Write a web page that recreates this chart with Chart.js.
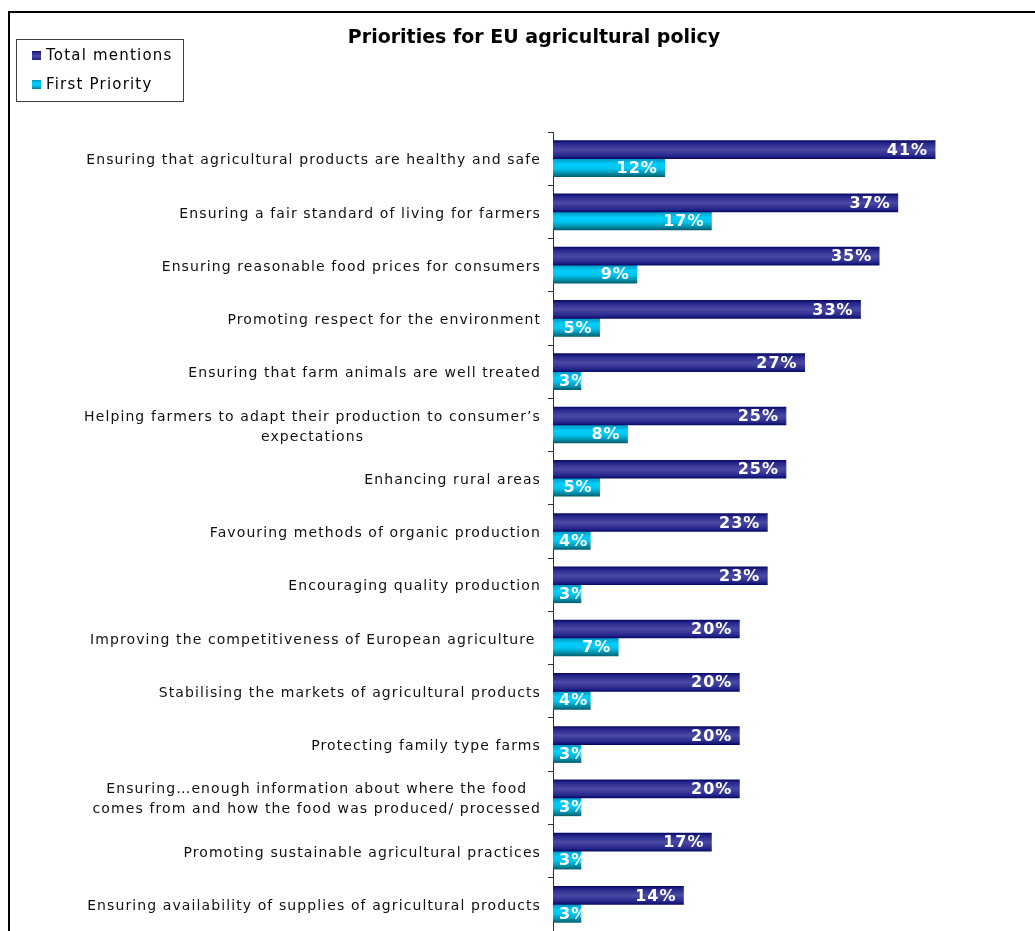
<!DOCTYPE html>
<html>
<head>
<meta charset="utf-8">
<script src="https://cdn.jsdelivr.net/npm/chart.js@4/dist/chart.umd.min.js"></script>
<style>
  html, body { margin:0; padding:0; background:#fff; overflow:hidden; }
  #wrap { position:absolute; left:0; top:0; width:1068px; height:931px; }
</style>
</head>
<body>
<div id="wrap"><canvas id="policyChart"></canvas></div>
<script>
/* ====== データ ====== */
const chartTitle = 'Priorities for EU agricultural policy';
const categories = [
  ['Ensuring that agricultural products are healthy and safe'],
  ['Ensuring a fair standard of living for farmers'],
  ['Ensuring reasonable food prices for consumers'],
  ['Promoting respect for the environment'],
  ['Ensuring that farm animals are well treated'],
  ['Helping farmers to adapt their production to consumer\u2019s', 'expectations'],
  ['Enhancing rural areas'],
  ['Favouring methods of organic production'],
  ['Encouraging quality production'],
  ['Improving the competitiveness of European agriculture '],
  ['Stabilising the markets of agricultural products'],
  ['Protecting family type farms'],
  ['Ensuring\u2026enough information about where the food', 'comes from and how the food was produced/ processed'],
  ['Promoting sustainable agricultural practices'],
  ['Ensuring availability of supplies of agricultural products']
];
const seriesNames = ['Total mentions', 'First Priority'];
const totalMentions = [41, 37, 35, 33, 27, 25, 25, 23, 23, 20, 20, 20, 20, 17, 14];
const firstPriority = [12, 17, 9, 5, 3, 8, 5, 4, 3, 7, 4, 3, 3, 3, 3];

const FONT = "'DejaVu Sans', Verdana, sans-serif";
const BAR_H = 18;
const PAD_L = 49, PAD_R = 49;   // タイトルを中央に寄せるための左右余白

/* ====== バーのグラデーション ====== */
const gradStops = [
  [[0, '#0a0a66'], [0.15, '#26268c'], [0.5, '#4a4aa4'], [0.85, '#26268c'], [1, '#0a0a66']],
  [[0, '#0096bf'], [0.3, '#00ccfa'], [0.55, '#00c6f2'], [0.8, '#0094b0'], [1, '#00606e']]
];
const flatColors = ['#2a2a8a', '#00c0ee'];

function barFill(ctx) {
  const chart = ctx.chart;
  const ds = ctx.datasetIndex;
  if (!chart.chartArea || ctx.dataIndex === undefined) return flatColors[ds];
  const yc = chart.scales.y.getPixelForValue(ctx.dataIndex);
  const top = ds === 0 ? yc - BAR_H : yc;
  const g = chart.ctx.createLinearGradient(0, top, 0, top + BAR_H);
  gradStops[ds].forEach(s => g.addColorStop(s[0], s[1]));
  return g;
}

/* ====== 枠・凡例・カテゴリ名・値ラベル ====== */
const decorPlugin = {
  id: 'decor',
  beforeDraw(chart) {
    const c = chart.ctx;
    c.save();
    c.strokeStyle = '#000';
    c.lineWidth = 2;
    c.beginPath();
    c.moveTo(9, 940);
    c.lineTo(9, 12);
    c.lineTo(1100, 12);
    c.stroke();
    c.restore();
  },
  afterDraw(chart) {
    const c = chart.ctx;
    c.save();

    // 凡例
    c.strokeStyle = '#404040';
    c.lineWidth = 1;
    c.strokeRect(16.5, 39.5, 167, 62);
    c.font = '15px ' + FONT;
    c.letterSpacing = '1.2px';
    c.textBaseline = 'middle';
    c.textAlign = 'left';
    chart.data.datasets.forEach((d, i) => {
      const y = 56 + i * 29;
      const g = c.createLinearGradient(0, y - 5, 0, y + 5);
      gradStops[i].forEach(s => g.addColorStop(s[0], s[1]));
      c.fillStyle = g;
      c.fillRect(32, y - 5, 9, 9);
      c.fillStyle = '#000';
      c.fillText(d.label, 46, y);
    });

    // カテゴリ名（複数行は中央揃え、ブロックは右寄せ）
    const ys = chart.scales.y;
    c.font = '14px ' + FONT;
    c.letterSpacing = '1.1px';
    c.fillStyle = '#111';
    const right = 541, lh = 20;
    categories.forEach((lines, i) => {
      const yc = ys.getPixelForValue(i) + 2;
      const w = Math.max(...lines.map(l => c.measureText(l).width));
      const cx = right - w / 2;
      c.textAlign = 'center';
      lines.forEach((l, k) => {
        c.fillText(l, cx, yc + (k - (lines.length - 1) / 2) * lh);
      });
    });
    c.restore();
  },
  afterDatasetsDraw(chart) {
    const c = chart.ctx;
    c.save();
    c.font = 'bold 16px ' + FONT;
    c.letterSpacing = '1px';
    c.fillStyle = '#fff';
    c.textBaseline = 'middle';
    c.textAlign = 'left';
    chart.data.datasets.forEach((d, di) => {
      const meta = chart.getDatasetMeta(di);
      meta.data.forEach((bar, i) => {
        const txt = d.data[i] + '%';
        const w = c.measureText(txt).width;
        const left = Math.max(bar.x - 7 - w, bar.base + 6);
        c.save();
        c.beginPath();
        c.rect(bar.base, bar.y - BAR_H / 2, bar.x - bar.base, BAR_H);
        c.clip();
        c.fillText(txt, left, bar.y + 1);
        c.restore();
      });
    });
    c.restore();
  }
};

new Chart(document.getElementById('policyChart').getContext('2d'), {
  type: 'bar',
  data: {
    labels: categories.map(l => l.join(' ')),
    datasets: [
      { label: seriesNames[0], data: totalMentions, backgroundColor: barFill, barThickness: BAR_H },
      { label: seriesNames[1], data: firstPriority, backgroundColor: barFill, barThickness: BAR_H }
    ]
  },
  options: {
    indexAxis: 'y',
    responsive: true,
    maintainAspectRatio: false,
    animation: false,
    layout: { padding: { left: PAD_L, right: PAD_R, top: 0, bottom: 0 } },
    scales: {
      x: { display: false, min: 0, max: 50 },
      y: {
        ticks: { display: false },
        grid: { display: true, drawOnChartArea: false, drawTicks: true, tickLength: 5, color: '#333', offset: true },
        border: { display: true, color: '#333', width: 1 },
        afterFit: s => { s.width = 553 - PAD_L; }
      }
    },
    plugins: {
      legend: { display: false },
      tooltip: { enabled: false },
      title: {
        display: true,
        text: chartTitle,
        color: '#000',
        font: { family: FONT, size: 19, weight: 'bold' },
        padding: { top: 27, bottom: 82.2 }
      }
    }
  },
  plugins: [decorPlugin]
});
</script>
</body>
</html>
